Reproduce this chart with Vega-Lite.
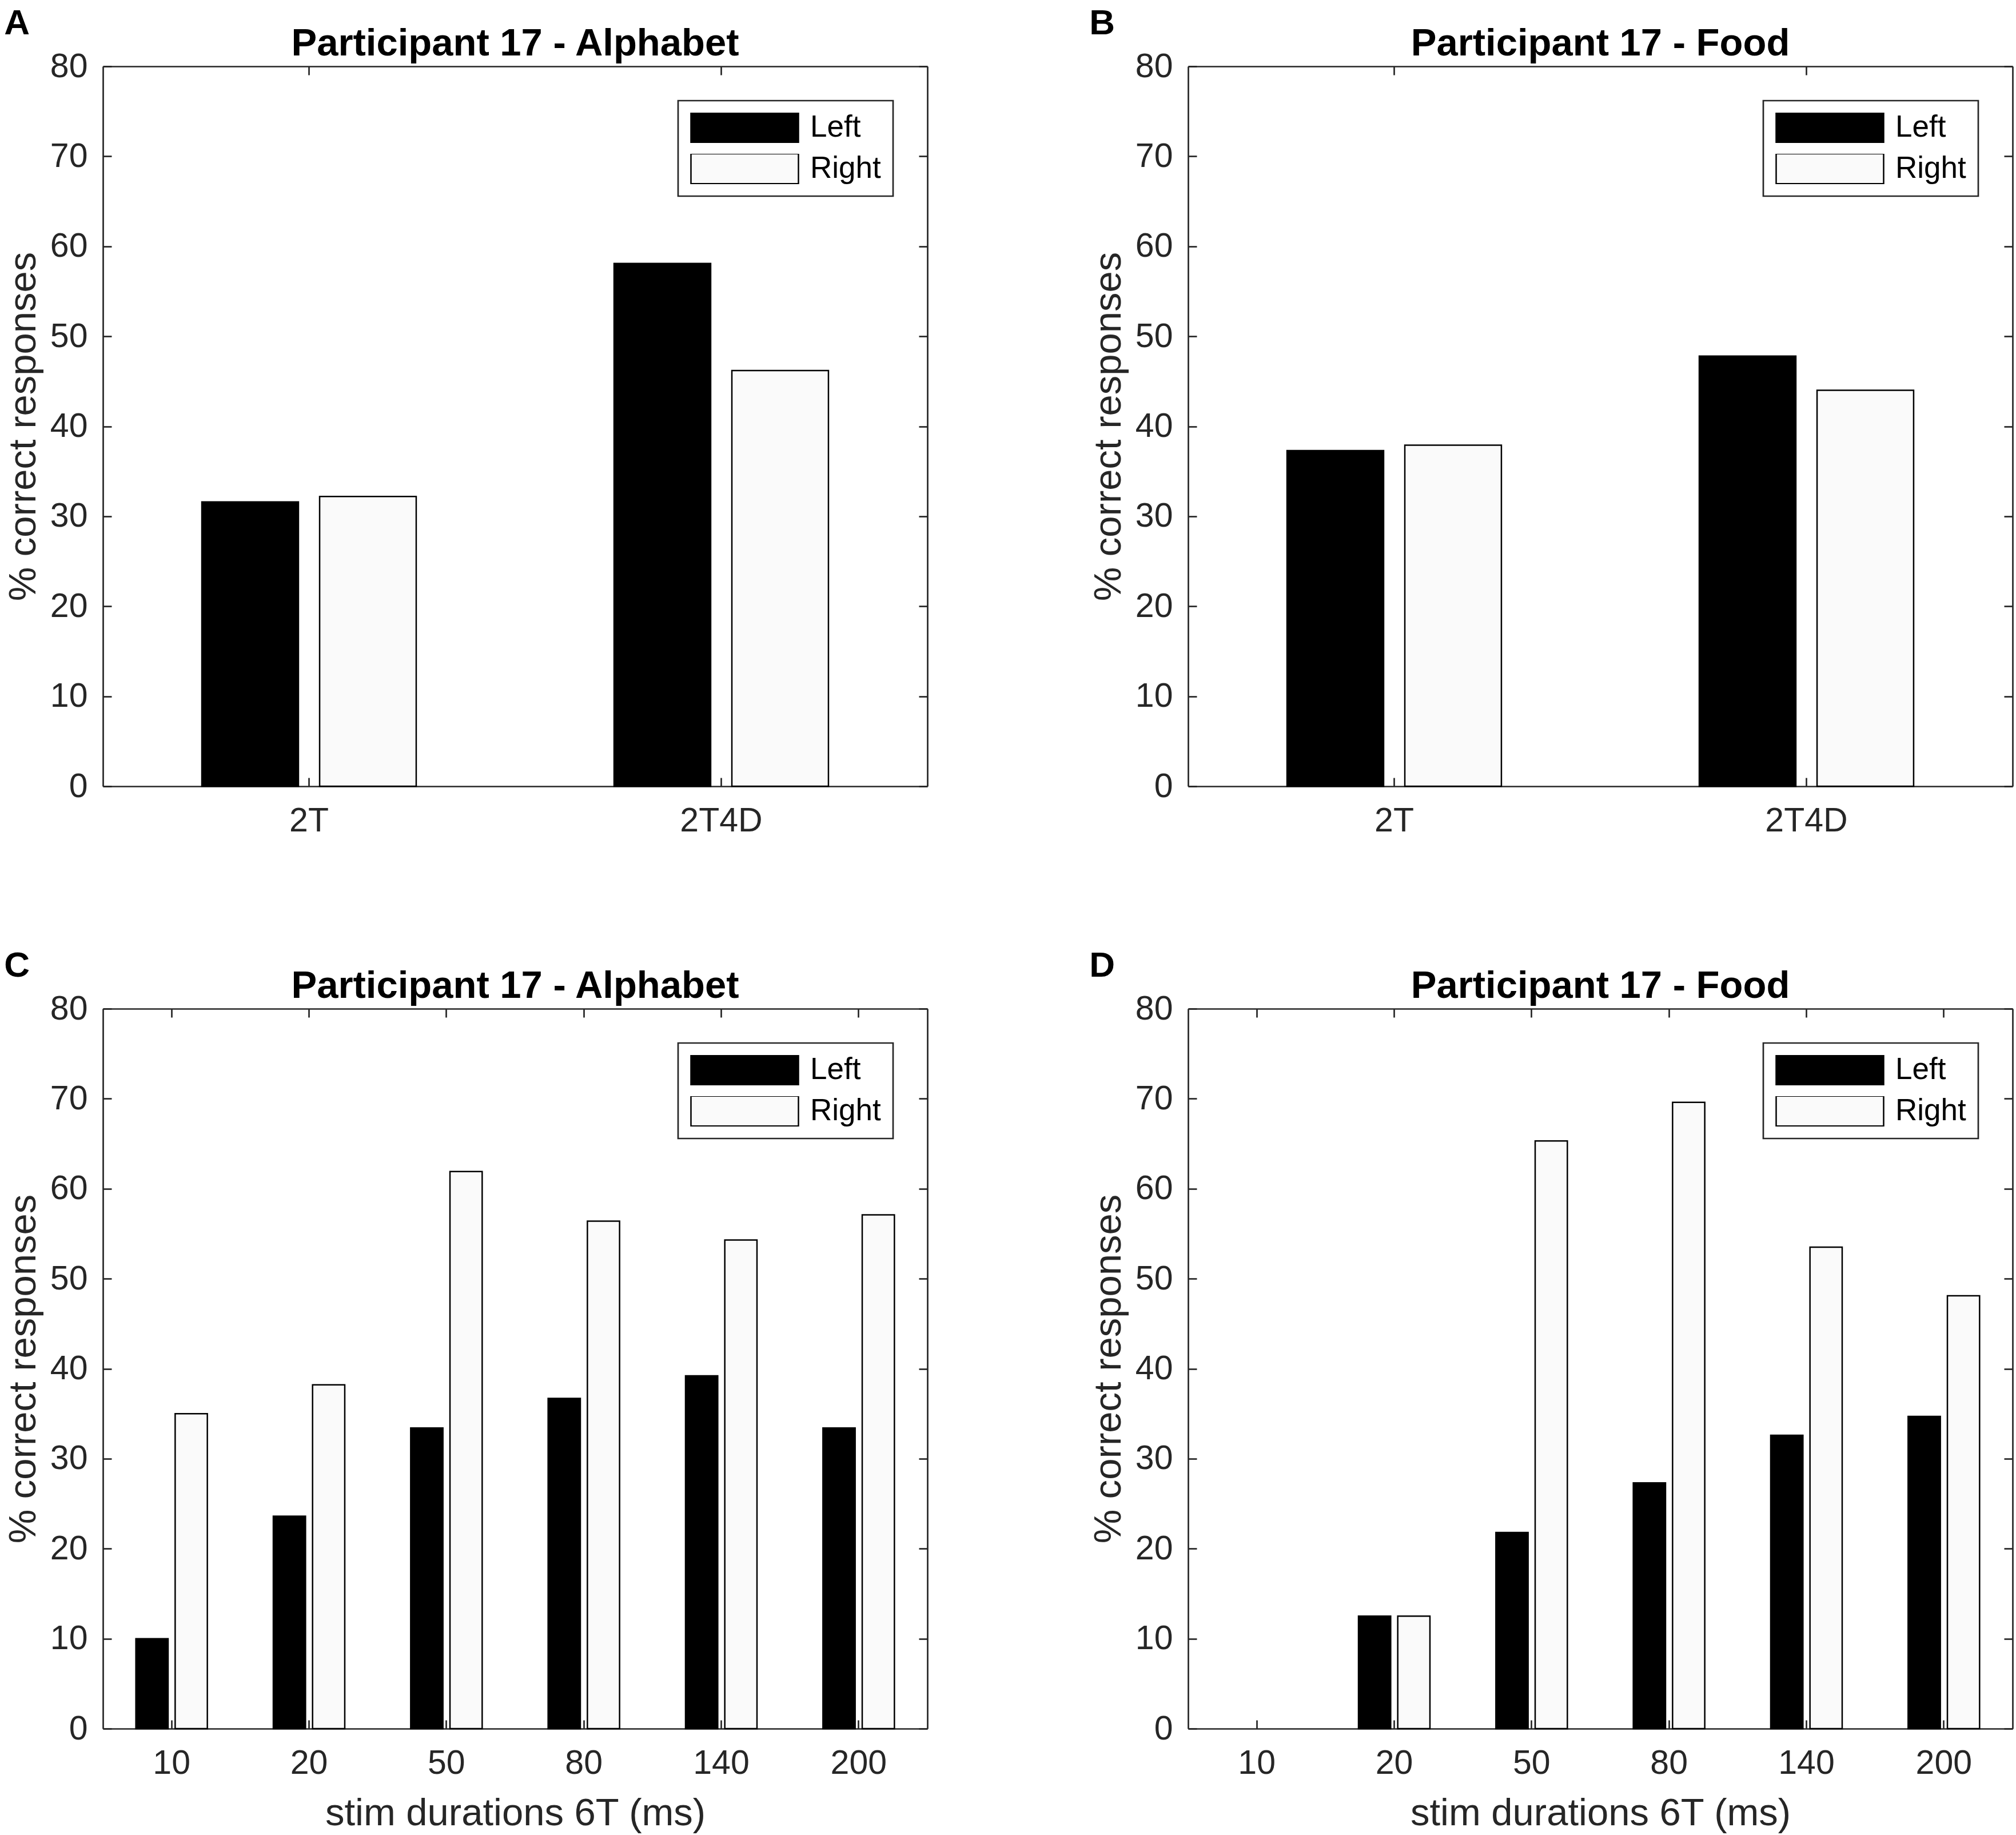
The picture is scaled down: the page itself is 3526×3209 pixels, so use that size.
{
  "$schema": "https://vega.github.io/schema/vega-lite/v6.json",
  "background": "white",
  "padding": {"top": 10, "left": 7, "right": 7, "bottom": 4},
  "datasets": {
    "alpha2": [
      {"cond": "2T", "side": "Left", "pct": 31.6},
      {"cond": "2T", "side": "Right", "pct": 32.2},
      {"cond": "2T4D", "side": "Left", "pct": 58.1},
      {"cond": "2T4D", "side": "Right", "pct": 46.2}
    ],
    "food2": [
      {"cond": "2T", "side": "Left", "pct": 37.3},
      {"cond": "2T", "side": "Right", "pct": 37.9},
      {"cond": "2T4D", "side": "Left", "pct": 47.8},
      {"cond": "2T4D", "side": "Right", "pct": 44.0}
    ],
    "alpha6": [
      {"dur": "10", "side": "Left", "pct": 10.0},
      {"dur": "10", "side": "Right", "pct": 35.0},
      {"dur": "20", "side": "Left", "pct": 23.6},
      {"dur": "20", "side": "Right", "pct": 38.2},
      {"dur": "50", "side": "Left", "pct": 33.4},
      {"dur": "50", "side": "Right", "pct": 61.9},
      {"dur": "80", "side": "Left", "pct": 36.7},
      {"dur": "80", "side": "Right", "pct": 56.4},
      {"dur": "140", "side": "Left", "pct": 39.2},
      {"dur": "140", "side": "Right", "pct": 54.3},
      {"dur": "200", "side": "Left", "pct": 33.4},
      {"dur": "200", "side": "Right", "pct": 57.1}
    ],
    "food6": [
      {"dur": "10", "side": "Left", "pct": 0},
      {"dur": "10", "side": "Right", "pct": 0},
      {"dur": "20", "side": "Left", "pct": 12.5},
      {"dur": "20", "side": "Right", "pct": 12.5},
      {"dur": "50", "side": "Left", "pct": 21.8},
      {"dur": "50", "side": "Right", "pct": 65.3},
      {"dur": "80", "side": "Left", "pct": 27.3},
      {"dur": "80", "side": "Right", "pct": 69.6},
      {"dur": "140", "side": "Left", "pct": 32.6},
      {"dur": "140", "side": "Right", "pct": 53.5},
      {"dur": "200", "side": "Left", "pct": 34.7},
      {"dur": "200", "side": "Right", "pct": 48.1}
    ]
  },
  "vconcat": [
    {
      "hconcat": [
        {
          "title": {"text": "A", "anchor": "start", "frame": "bounds", "fontSize": 62, "offset": -30},
          "vconcat": [
            {
              "title": {"text": "Participant 17 - Alphabet", "frame": "group", "offset": -24},
              "width": 1442,
              "height": 1259,
              "data": {"name": "alpha2"},
              "layer": [
                {
                  "mark": {"type": "bar", "stroke": "#000000", "strokeWidth": 2.5},
                  "encoding": {
                    "x": {"field": "cond", "type": "ordinal", "sort": ["2T", "2T4D"], "scale": {"paddingInner": 0.4, "paddingOuter": 0.2}, "axis": {"title": null}},
                    "xOffset": {"field": "side", "type": "nominal", "sort": ["Left", "Right"], "scale": {"paddingInner": 0.18, "paddingOuter": 0.14}},
                    "y": {"field": "pct", "type": "quantitative", "stack": null, "scale": {"domain": [0, 80], "nice": false}, "axis": {"title": "% correct responses", "values": [0, 10, 20, 30, 40, 50, 60, 70, 80]}},
                    "color": {"field": "side", "type": "nominal", "scale": {"domain": ["Left", "Right"], "range": ["#000000", "#fafafa"]}, "legend": {"title": null}}
                  }
                },
                {
                  "mark": {"type": "bar", "opacity": 0},
                  "encoding": {
                    "x": {"field": "cond", "type": "ordinal", "sort": ["2T", "2T4D"], "axis": {"orient": "top", "labels": false, "title": null}},
                    "y": {"field": "pct", "type": "quantitative", "stack": null, "scale": {"domain": [0, 80], "nice": false}, "axis": {"orient": "right", "labels": false, "title": null, "values": [0, 10, 20, 30, 40, 50, 60, 70, 80]}}
                  }
                }
              ],
              "resolve": {"axis": {"x": "independent", "y": "independent"}}
            }
          ],
          "resolve": {"scale": {"color": "independent", "xOffset": "independent"}, "legend": {"color": "independent"}}
        },
        {
          "title": {"text": "B", "anchor": "start", "frame": "bounds", "fontSize": 62, "offset": -30},
          "vconcat": [
            {
              "title": {"text": "Participant 17 - Food", "frame": "group", "offset": -24},
              "width": 1442,
              "height": 1259,
              "data": {"name": "food2"},
              "layer": [
                {
                  "mark": {"type": "bar", "stroke": "#000000", "strokeWidth": 2.5},
                  "encoding": {
                    "x": {"field": "cond", "type": "ordinal", "sort": ["2T", "2T4D"], "scale": {"paddingInner": 0.4, "paddingOuter": 0.2}, "axis": {"title": null}},
                    "xOffset": {"field": "side", "type": "nominal", "sort": ["Left", "Right"], "scale": {"paddingInner": 0.18, "paddingOuter": 0.14}},
                    "y": {"field": "pct", "type": "quantitative", "stack": null, "scale": {"domain": [0, 80], "nice": false}, "axis": {"title": "% correct responses", "values": [0, 10, 20, 30, 40, 50, 60, 70, 80]}},
                    "color": {"field": "side", "type": "nominal", "scale": {"domain": ["Left", "Right"], "range": ["#000000", "#fafafa"]}, "legend": {"title": null}}
                  }
                },
                {
                  "mark": {"type": "bar", "opacity": 0},
                  "encoding": {
                    "x": {"field": "cond", "type": "ordinal", "sort": ["2T", "2T4D"], "axis": {"orient": "top", "labels": false, "title": null}},
                    "y": {"field": "pct", "type": "quantitative", "stack": null, "scale": {"domain": [0, 80], "nice": false}, "axis": {"orient": "right", "labels": false, "title": null, "values": [0, 10, 20, 30, 40, 50, 60, 70, 80]}}
                  }
                }
              ],
              "resolve": {"axis": {"x": "independent", "y": "independent"}}
            }
          ],
          "resolve": {"scale": {"color": "independent", "xOffset": "independent"}, "legend": {"color": "independent"}}
        }
      ],
      "spacing": 281,
      "resolve": {"scale": {"color": "independent", "xOffset": "independent"}, "legend": {"color": "independent"}}
    },
    {
      "hconcat": [
        {
          "title": {"text": "C", "anchor": "start", "frame": "bounds", "fontSize": 62, "offset": -30},
          "vconcat": [
            {
              "title": {"text": "Participant 17 - Alphabet", "frame": "group", "offset": -24},
              "width": 1442,
              "height": 1259,
              "data": {"name": "alpha6"},
              "layer": [
                {
                  "mark": {"type": "bar", "stroke": "#000000", "strokeWidth": 2.5},
                  "encoding": {
                    "x": {"field": "dur", "type": "ordinal", "sort": ["10", "20", "50", "80", "140", "200"], "scale": {"paddingInner": 0.4, "paddingOuter": 0.2}, "axis": {"title": "stim durations 6T (ms)"}},
                    "xOffset": {"field": "side", "type": "nominal", "sort": ["Left", "Right"], "scale": {"paddingInner": 0.18, "paddingOuter": 0.14}},
                    "y": {"field": "pct", "type": "quantitative", "stack": null, "scale": {"domain": [0, 80], "nice": false}, "axis": {"title": "% correct responses", "values": [0, 10, 20, 30, 40, 50, 60, 70, 80]}},
                    "color": {"field": "side", "type": "nominal", "scale": {"domain": ["Left", "Right"], "range": ["#000000", "#fafafa"]}, "legend": {"title": null}}
                  }
                },
                {
                  "mark": {"type": "bar", "opacity": 0},
                  "encoding": {
                    "x": {"field": "dur", "type": "ordinal", "sort": ["10", "20", "50", "80", "140", "200"], "axis": {"orient": "top", "labels": false, "title": null}},
                    "y": {"field": "pct", "type": "quantitative", "stack": null, "scale": {"domain": [0, 80], "nice": false}, "axis": {"orient": "right", "labels": false, "title": null, "values": [0, 10, 20, 30, 40, 50, 60, 70, 80]}}
                  }
                }
              ],
              "resolve": {"axis": {"x": "independent", "y": "independent"}}
            }
          ],
          "resolve": {"scale": {"color": "independent", "xOffset": "independent"}, "legend": {"color": "independent"}}
        },
        {
          "title": {"text": "D", "anchor": "start", "frame": "bounds", "fontSize": 62, "offset": -30},
          "vconcat": [
            {
              "title": {"text": "Participant 17 - Food", "frame": "group", "offset": -24},
              "width": 1442,
              "height": 1259,
              "data": {"name": "food6"},
              "layer": [
                {
                  "mark": {"type": "bar", "stroke": "#000000", "strokeWidth": 2.5},
                  "encoding": {
                    "x": {"field": "dur", "type": "ordinal", "sort": ["10", "20", "50", "80", "140", "200"], "scale": {"paddingInner": 0.4, "paddingOuter": 0.2}, "axis": {"title": "stim durations 6T (ms)"}},
                    "xOffset": {"field": "side", "type": "nominal", "sort": ["Left", "Right"], "scale": {"paddingInner": 0.18, "paddingOuter": 0.14}},
                    "y": {"field": "pct", "type": "quantitative", "stack": null, "scale": {"domain": [0, 80], "nice": false}, "axis": {"title": "% correct responses", "values": [0, 10, 20, 30, 40, 50, 60, 70, 80]}},
                    "color": {"field": "side", "type": "nominal", "scale": {"domain": ["Left", "Right"], "range": ["#000000", "#fafafa"]}, "legend": {"title": null}},
                    "strokeOpacity": {"condition": {"test": "datum.pct == 0", "value": 0}, "value": 1}
                  }
                },
                {
                  "mark": {"type": "bar", "opacity": 0},
                  "encoding": {
                    "x": {"field": "dur", "type": "ordinal", "sort": ["10", "20", "50", "80", "140", "200"], "axis": {"orient": "top", "labels": false, "title": null}},
                    "y": {"field": "pct", "type": "quantitative", "stack": null, "scale": {"domain": [0, 80], "nice": false}, "axis": {"orient": "right", "labels": false, "title": null, "values": [0, 10, 20, 30, 40, 50, 60, 70, 80]}}
                  }
                }
              ],
              "resolve": {"axis": {"x": "independent", "y": "independent"}}
            }
          ],
          "resolve": {"scale": {"color": "independent", "xOffset": "independent"}, "legend": {"color": "independent"}}
        }
      ],
      "spacing": 281,
      "resolve": {"scale": {"color": "independent", "xOffset": "independent"}, "legend": {"color": "independent"}}
    }
  ],
  "spacing": 193,
  "resolve": {"scale": {"color": "independent", "xOffset": "independent"}, "legend": {"color": "independent"}},
  "config": {
    "font": "Liberation Sans",
    "view": {"stroke": null},
    "axis": {
      "grid": false,
      "domainColor": "#262626",
      "domainWidth": 2.7,
      "tickColor": "#262626",
      "tickWidth": 2.7,
      "tickSize": -15,
      "labelColor": "#262626",
      "labelFontSize": 59,
      "labelAngle": 0,
      "titleColor": "#262626",
      "titleFontSize": 67,
      "titleFontWeight": "normal"
    },
    "axisX": {"labelPadding": 46, "titlePadding": 25},
    "axisY": {"labelPadding": 42, "titlePadding": 12},
    "legend": {
      "orient": "top-right",
      "offset": 60,
      "strokeColor": "#262626",
      "strokeWidth": 2.7,
      "fillColor": "#ffffff",
      "padding": 21,
      "labelFontSize": 53,
      "labelColor": "#000000",
      "labelOffset": 19,
      "symbolType": "M-1,-0.28H1V0.28H-1Z",
      "symbolSize": 35344,
      "symbolStrokeColor": "#000000",
      "symbolStrokeWidth": 2.5,
      "symbolOpacity": 1,
      "clipHeight": 52,
      "rowPadding": 19
    },
    "title": {"fontSize": 67, "fontWeight": "bold", "color": "#000000"}
  }
}
